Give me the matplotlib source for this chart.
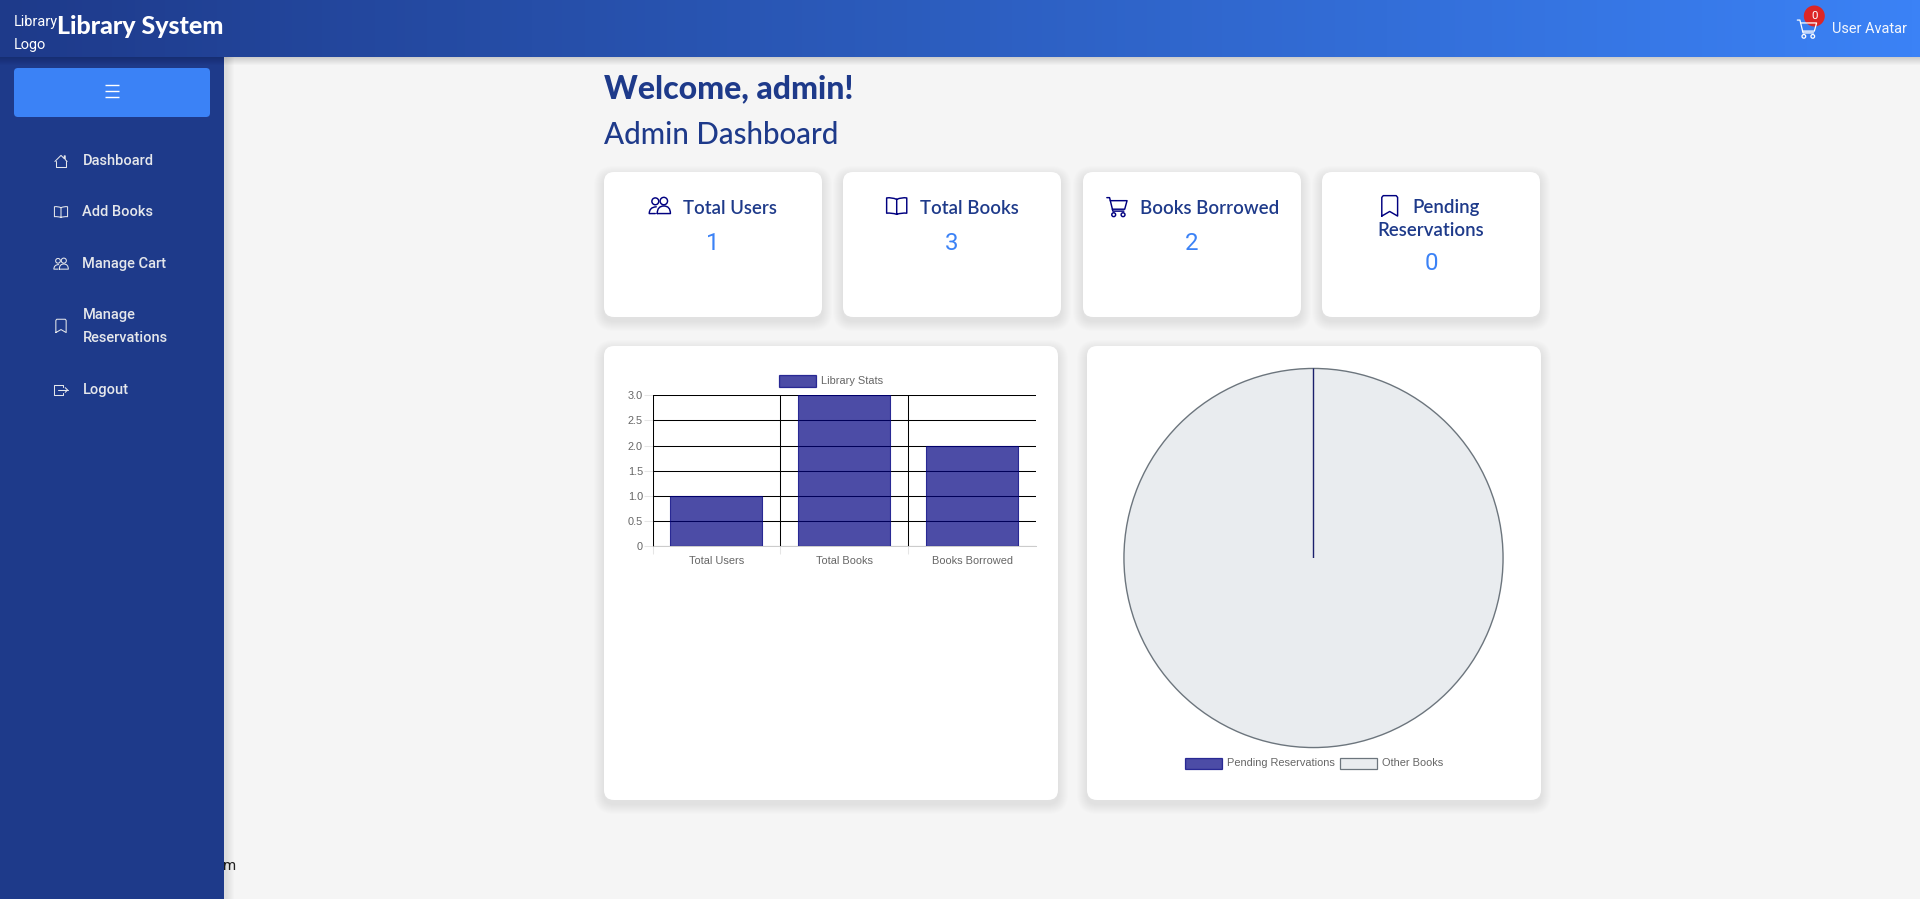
import numpy as np
import matplotlib
matplotlib.use("Agg")
import matplotlib.pyplot as plt
from matplotlib.patches import FancyBboxPatch, Rectangle, Circle, PathPatch
from matplotlib.path import Path
from matplotlib.colors import LinearSegmentedColormap

# ---- data ----
bar_categories = ["Total Users", "Total Books", "Books Borrowed"]
bar_values = [1, 3, 2]
bar_series = "Library Stats"
y_ticks = [0, 0.5, 1.0, 1.5, 2.0, 2.5, 3.0]
y_tick_labels = ["0", "0.5", "1.0", "1.5", "2.0", "2.5", "3.0"]
pie_labels = ["Pending Reservations", "Other Books"]
pie_values = [0, 3]
nav_labels = ["Dashboard", "Add Books", "Manage Cart", "Manage\nReservations", "Logout"]
stat_values = ["1", "3", "2", "0"]

W, H = 1920, 899
NAVY = "#1e3a8a"
BLUE = "#3b82f6"
ICON = "#000080"
PX = 0.72  # pt per px at dpi 100
SANS_HEAD = "Lato"

fig = plt.figure(figsize=(W / 100, H / 100), dpi=100, facecolor="#f5f5f5")
pg = fig.add_axes([0, 0, 1, 1])
pg.set_axis_off()


def rrect(x0, y0, x1, y1, r, fc, z=2, **kw):
    p = FancyBboxPatch((x0 + r, y0 + r), x1 - x0 - 2 * r, y1 - y0 - 2 * r,
                       boxstyle=f"round,pad={r},rounding_size={r}",
                       fc=fc, ec="none", zorder=z, **kw)
    pg.add_patch(p)
    return p


def card(x0, y0, x1, y1):
    for i in range(10):
        g = 10 - i
        rrect(x0 - g, y0 - g + 4, x1 + g, y1 + g + 4, 10 + g, "black", z=1.5, alpha=0.0075)
    rrect(x0, y0, x1, y1, 10, "white", z=2)


def stroke(verts, codes=None, cx=0, cy=0, s=1, color="white", lw=1.0, z=6):
    v = np.array(verts, float)
    v = (v - 8) * s / 16 + [cx, cy]
    pth = Path(v, codes) if codes else Path(v)
    pg.add_patch(PathPatch(pth, fc="none", ec=color, lw=lw, zorder=z, capstyle="round", joinstyle="round"))


def circ(x, y, r, cx, cy, s, color, lw, z=6):
    pg.add_patch(Circle((cx + (x - 8) * s / 16, cy + (y - 8) * s / 16), r * s / 16,
                        fc="none", ec=color, lw=lw, zorder=z))


def icon_home(cx, cy, s, color, lw):
    stroke([(1.5, 8.5), (8, 2), (11.5, 5.5), (11.5, 2.5), (12.5, 2.5), (12.5, 6.5), (14.5, 8.5)], cx=cx, cy=cy, s=s, color=color, lw=lw)
    stroke([(2.8, 7.5), (2.8, 14), (13.2, 14), (13.2, 7.5)], cx=cx, cy=cy, s=s, color=color, lw=lw)


def icon_book(cx, cy, s, color, lw):
    C = Path.CURVE3; M = Path.MOVETO; L = Path.LINETO
    stroke([(8, 3.4), (4.5, 1.8), (1, 2.4), (1, 13), (4.5, 12.6), (8, 13.8), (11.5, 12.6), (15, 13), (15, 2.4), (11.5, 1.8), (8, 3.4), (8, 13.8)],
           [M, C, C, L, C, C, C, C, L, C, C, L], cx=cx, cy=cy, s=s, color=color, lw=lw)


def icon_people(cx, cy, s, color, lw):
    circ(4.8, 4.6, 2.5, cx, cy, s, color, lw)
    circ(11, 4.4, 2.7, cx, cy, s, color, lw)
    C = Path.CURVE3; M = Path.MOVETO; L = Path.LINETO
    stroke([(6.2, 13.5), (6.2, 8), (11, 8), (15.8, 8), (15.8, 13.5), (6.2, 13.5)], [M, C, C, C, C, L], cx=cx, cy=cy, s=s, color=color, lw=lw)
    stroke([(4.8, 13.5), (0.4, 13.5), (0.4, 8.8), (5.5, 8.6)], [M, L, C, C], cx=cx, cy=cy, s=s, color=color, lw=lw)


def icon_cart(cx, cy, s, color, lw):
    stroke([(0.6, 1.2), (2.6, 1.2), (5, 11), (13, 11)], cx=cx, cy=cy, s=s, color=color, lw=lw)
    stroke([(3.1, 3.4), (15.3, 3.4), (13.6, 9.6), (4.6, 9.6)], cx=cx, cy=cy, s=s, color=color, lw=lw)
    circ(5.6, 13.6, 1.4, cx, cy, s, color, lw)
    circ(12.4, 13.6, 1.4, cx, cy, s, color, lw)


def icon_bookmark(cx, cy, s, color, lw):
    stroke([(2.5, 15), (2.5, 2), (3.5, 0.8), (12.5, 0.8), (13.5, 2), (13.5, 15), (8, 11.8), (2.5, 15)], cx=cx, cy=cy, s=s, color=color, lw=lw)


def icon_logout(cx, cy, s, color, lw):
    stroke([(10, 5), (10, 2.5), (1, 2.5), (1, 13.5), (10, 13.5), (10, 11)], cx=cx, cy=cy, s=s, color=color, lw=lw)
    stroke([(4.5, 8), (15, 8)], cx=cx, cy=cy, s=s, color=color, lw=lw)
    stroke([(12.5, 5.5), (15, 8), (12.5, 10.5)], cx=cx, cy=cy, s=s, color=color, lw=lw)


# ---- page chrome ----
grad = LinearSegmentedColormap.from_list("hdr", [NAVY, BLUE])
pg.imshow(np.linspace(0, 1, 512).reshape(1, -1), extent=[0, W, 57, 0], aspect="auto", cmap=grad, zorder=9)
for i in range(8):
    pg.add_patch(Rectangle((0, 57), W, 8 - i, fc="black", ec="none", alpha=0.018, zorder=8))
    pg.add_patch(Rectangle((224, 57), 10 - i, H - 57, fc="black", ec="none", alpha=0.012, zorder=3))
pg.add_patch(Rectangle((0, 57), 224, H - 57, fc=NAVY, ec="none", zorder=7))
pg.set_xlim(0, W)
pg.set_ylim(H, 0)

pg.text(223.5, 866, "m", family="Roboto", fontsize=15 * PX, color="#222222", va="center", zorder=2)

# header
pg.text(14, 22, "Library", family="Roboto", fontsize=14.5 * PX, color="white", va="center", zorder=10)
pg.text(14, 45, "Logo", family="Roboto", fontsize=14.5 * PX, color="white", va="center", zorder=10)
pg.text(57, 26, "Library System", family=SANS_HEAD, fontweight="black", fontsize=25 * PX, color="white", va="center", zorder=10)
icon_cart(1807, 29, 21, "white", 1.0 * 0 + 0.9)
for a in pg.patches[-4:]:
    a.set_zorder(10)
pg.add_patch(Circle((1814.3, 16), 10.5, fc="#dc2626", ec="none", zorder=11))
pg.text(1814.3, 16, "0", family="Roboto", fontsize=11.5 * PX, color="white", ha="center", va="center", zorder=12)
pg.text(1832.5, 29, "User Avatar", family="Roboto", fontsize=14.5 * PX, color="#f4f7fd", va="center", zorder=10)

# sidebar
rrect(14, 68, 210, 117, 4, BLUE, z=8)
for y in (85, 91, 97):
    pg.plot([105, 119], [y, y], color="white", lw=1.0, zorder=9, solid_capstyle="butt")

NAV_C = "#e5e7eb"
nav_y = [161, 212, 264, 326, 390]
nav_icons = [icon_home, icon_book, icon_people, icon_bookmark, icon_logout]
for label, y, ic in zip(nav_labels, nav_y, nav_icons):
    ic(61, y, 15, NAV_C, 0.75)
    for a in pg.patches[-6:]:
        a.set_zorder(9)
    lines = label.split("\n")
    ys = [y] if len(lines) == 1 else [y - 11.5, y + 11.5]
    for t, yy in zip(lines, ys):
        pg.text(82.5, yy, t, family="Roboto", fontweight="medium", fontsize=14.6 * PX, color=NAV_C, va="center", zorder=9)

# headings
pg.text(604, 89, "Welcome, admin!", family=SANS_HEAD, fontweight="black", fontsize=32 * PX, color=NAVY, va="center", zorder=3)
pg.text(604, 135, "Admin Dashboard", family=SANS_HEAD, fontweight="medium", fontsize=29.5 * PX, color=NAVY, va="center", zorder=3)

# stat cards
for x0, x1 in [(604, 822), (843, 1061), (1083, 1301), (1322, 1540)]:
    card(x0, 172, x1, 317)
card(604, 346, 1058, 800)
card(1087, 346, 1541, 800)

TS = 18.6 * PX
for txt, x in [("Total Users", 682.7), ("Total Books", 919.7), ("Books Borrowed", 1140), ("Pending", 1412.5)]:
    pg.text(x, 208, txt, family=SANS_HEAD, fontweight="semibold", fontsize=TS, color=NAVY, va="center", zorder=3)
pg.text(1431, 230, "Reservations", family=SANS_HEAD, fontweight="semibold", fontsize=TS, color=NAVY, ha="center", va="center", zorder=3)
icon_people(659.7, 206, 22, ICON, 1.05)
icon_book(896.7, 206, 23, ICON, 1.05)
icon_cart(1117, 207, 22, ICON, 1.05)
icon_bookmark(1389.7, 206, 23, ICON, 1.05)
for v, x, y in zip(stat_values, [713, 952, 1192, 1431], [243, 243, 243, 263]):
    pg.text(x, y, v, family="Roboto", fontsize=24 * PX, color=BLUE, ha="center", va="center", zorder=3)

# ---- bar chart ----
L, R, T, B = 652.5, 1036, 395.3, 546.3
ax = fig.add_axes([L / W, 1 - B / H, (R - L) / W, (B - T) / H], facecolor="none", zorder=4)
x = np.arange(len(bar_categories))
ax.bar(x, bar_values, width=0.72, color=(0, 0, 0.5, 0.7), edgecolor=(0, 0, 0.5, 0.75), linewidth=0.8, zorder=3)
ax.set_xlim(-0.5, len(x) - 0.5)
ax.set_ylim(0, 3)
ax.set_yticks(y_ticks, y_tick_labels)
ax.set_xticks(x, bar_categories)
ax.set_xticks(x[:-1] - 0.5 if False else [-0.5, 0.5, 1.5], minor=True)
GRID = (0, 0, 0, 0.1)
ax.grid(True, axis="y", which="major", color=GRID, lw=0.75, zorder=1)
ax.grid(True, axis="x", which="minor", color=GRID, lw=0.75, zorder=1)
ax.grid(False, axis="x", which="major")
TXT = "#666666"
ax.tick_params(axis="y", which="major", length=6.8, width=0.75, color=GRID, labelcolor=TXT, labelsize=11 * PX, pad=0)
ax.tick_params(axis="x", which="major", length=0, labelcolor=TXT, labelsize=11 * PX, pad=8.6 * PX + 1)
ax.tick_params(axis="x", which="minor", length=5.8, width=0.75, color=GRID)
for lab in ax.get_xticklabels() + ax.get_yticklabels():
    lab.set_family("Liberation Sans")
for s in ("top", "right"):
    ax.spines[s].set_visible(False)
for s in ("left", "bottom"):
    ax.spines[s].set_color((0, 0, 0, 0.2))
    ax.spines[s].set_linewidth(0.75)
ax.set_axisbelow(True)

# chart legends
def legend_item(x0, y, label, fc, ec):
    pg.add_patch(Rectangle((x0, y - 5.8), 37, 11.6, fc=fc, ec=ec, lw=0.9, zorder=3))
    pg.text(x0 + 42, y - 0.3, label, family="Liberation Sans", fontsize=11 * PX, color=TXT, va="center", zorder=3)

BAR_FC = (0, 0, 0.5, 0.7)
legend_item(779, 381, bar_series, BAR_FC, (0, 0, 0.5, 0.75))

# ---- pie chart ----
cx, cy, rad = 1313.5, 558, 190.5
pie = fig.add_axes([(cx - rad) / W, 1 - (cy + rad) / H, 2 * rad / W, 2 * rad / H], facecolor="none", zorder=4)
wedges, _ = pie.pie(pie_values, colors=[BAR_FC, "#e9ecef"], startangle=90, counterclock=False, radius=1,
                    wedgeprops=dict(linewidth=1.0))
wedges[0].set_edgecolor("#1a1f6b")
wedges[1].set_edgecolor("#6c757d")
wedges[0].set_zorder(5)
pie.set_xlim(-1.005, 1.005)
pie.set_ylim(-1.005, 1.005)

legend_item(1185, 763.5, pie_labels[0], BAR_FC, (0, 0, 0.5, 0.75))
legend_item(1340, 763.5, pie_labels[1], "#e9ecef", "#6c757d")

fig.savefig("out.png", dpi=100, facecolor=fig.get_facecolor())
